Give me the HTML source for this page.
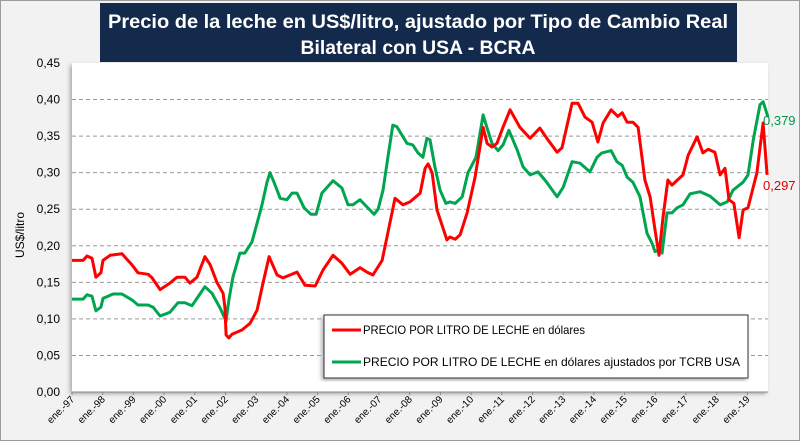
<!DOCTYPE html>
<html><head><meta charset="utf-8"><style>
html,body{margin:0;padding:0;background:#fff}
svg{display:block;font-family:"Liberation Sans",sans-serif}
</style></head><body>
<svg id="chart" width="800" height="441" viewBox="0 0 800 441">
<defs><filter id="sh" x="-5%" y="-5%" width="110%" height="110%"><feDropShadow dx="-2" dy="2" stdDeviation="2" flood-color="#777" flood-opacity="0.6"/></filter></defs>
<rect x="0.5" y="0.5" width="799" height="440" fill="#f2f2f2" stroke="#9a9a9a"/>
<rect x="72" y="63" width="696" height="329" fill="#fff" filter="url(#sh)"/>
<g id="grid"></g>
<g id="axes"></g>
<g id="series"></g>
<rect x="100" y="3" width="637" height="59" fill="#142a4c"/>
<text x="418" y="28" fill="#fff" font-weight="bold" font-size="19" text-anchor="middle" textLength="620" lengthAdjust="spacingAndGlyphs">Precio de la leche en US$/litro, ajustado por Tipo de Cambio Real</text>
<text x="418" y="54" fill="#fff" font-weight="bold" font-size="19" text-anchor="middle" textLength="235" lengthAdjust="spacingAndGlyphs">Bilateral con USA - BCRA</text>
<text transform="translate(24,235) rotate(-90)" font-size="12" text-anchor="middle" fill="#000">US$/litro</text>
<g>
<rect x="324" y="315" width="424" height="63" fill="#fff" stroke="#333" filter="url(#sh)"/>
<line x1="332" y1="330" x2="361" y2="330" stroke="#ff0000" stroke-width="3"/>
<text x="363" y="334" font-size="12" fill="#000" textLength="222" lengthAdjust="spacingAndGlyphs">PRECIO POR LITRO DE LECHE en dólares</text>
<line x1="332" y1="362" x2="361" y2="362" stroke="#00a550" stroke-width="3"/>
<text x="363" y="366" font-size="12" fill="#000" textLength="377" lengthAdjust="spacingAndGlyphs">PRECIO POR LITRO DE LECHE en dólares ajustados por TCRB USA</text>
</g>
<text x="763" y="125" font-size="13" fill="#00964a">0,379</text>
<text x="763" y="190" font-size="13" fill="#e00000">0,297</text>
</svg>
<script>
const yTicks=[0,0.05,0.10,0.15,0.20,0.25,0.30,0.35,0.40,0.45];
const yearLabels=["ene.-97","ene.-98","ene.-99","ene.-00","ene.-01","ene.-02","ene.-03","ene.-04","ene.-05","ene.-06","ene.-07","ene.-08","ene.-09","ene.-10","ene.-11","ene.-12","ene.-13","ene.-14","ene.-15","ene.-16","ene.-17","ene.-18","ene.-19"];
const redT=[0,.36,.49,.65,.78,.94,1.01,1.24,1.63,1.95,2.15,2.48,2.61,2.87,3.19,3.42,3.68,3.84,4.07,4.33,4.50,4.72,4.92,4.98,5.02,5.11,5.21,5.54,5.80,6.03,6.22,6.42,6.68,6.87,7.33,7.59,7.92,8.18,8.50,8.79,9.06,9.38,9.61,9.80,10.10,10.26,10.52,10.78,11.01,11.34,11.50,11.60,11.73,11.89,12.21,12.31,12.48,12.64,12.87,13.13,13.39,13.52,13.68,13.84,14.04,14.27,14.59,14.92,15.24,15.50,15.80,15.96,16.29,16.48,16.71,16.94,17.13,17.30,17.56,17.78,17.92,18.08,18.27,18.44,18.66,18.83,18.99,19.12,19.25,19.41,19.54,19.90,20.07,20.36,20.55,20.72,20.94,21.11,21.27,21.40,21.56,21.73,21.86,22.02,22.31,22.51,22.64];
const redV=[.180,.180,.186,.183,.157,.163,.180,.187,.189,.174,.163,.161,.156,.140,.149,.157,.157,.149,.157,.185,.174,.150,.135,.116,.078,.074,.079,.085,.094,.112,.149,.185,.160,.156,.164,.146,.145,.167,.187,.176,.161,.170,.164,.160,.180,.212,.265,.256,.260,.272,.306,.312,.300,.249,.208,.212,.209,.215,.245,.294,.362,.340,.335,.340,.362,.386,.362,.347,.361,.345,.328,.334,.395,.395,.376,.369,.342,.368,.386,.377,.382,.369,.369,.362,.290,.267,.222,.187,.239,.290,.283,.297,.324,.349,.327,.332,.328,.297,.306,.263,.258,.211,.249,.252,.300,.368,.297];
const greenT=[0,.36,.49,.65,.78,.94,1.01,1.34,1.63,1.95,2.15,2.48,2.64,2.87,3.19,3.45,3.68,3.91,4.10,4.33,4.56,4.82,5.02,5.11,5.24,5.47,5.63,5.86,6.03,6.19,6.35,6.45,6.58,6.78,7.00,7.17,7.33,7.56,7.78,7.95,8.14,8.50,8.79,8.99,9.15,9.38,9.61,9.84,9.97,10.13,10.29,10.45,10.58,10.91,11.10,11.27,11.43,11.56,11.66,11.82,11.99,12.18,12.31,12.48,12.71,12.90,13.16,13.39,13.52,13.68,13.88,14.04,14.23,14.50,14.69,14.92,15.18,15.44,15.80,16.00,16.29,16.55,16.87,17.10,17.26,17.56,17.75,17.92,18.08,18.27,18.50,18.73,18.89,18.99,19.09,19.22,19.38,19.54,19.71,19.90,20.13,20.46,20.78,21.11,21.34,21.53,21.86,22.02,22.19,22.41,22.51,22.67];
const greenV=[.127,.127,.133,.131,.111,.116,.128,.134,.134,.126,.119,.119,.116,.104,.109,.122,.122,.118,.130,.144,.135,.115,.097,.126,.157,.190,.190,.205,.231,.256,.287,.300,.287,.265,.263,.272,.272,.252,.243,.243,.272,.289,.279,.256,.256,.263,.253,.243,.250,.276,.321,.365,.363,.340,.338,.327,.321,.347,.345,.308,.276,.258,.260,.258,.267,.300,.321,.379,.361,.340,.330,.338,.358,.331,.308,.297,.301,.288,.267,.280,.315,.313,.301,.321,.327,.330,.315,.310,.294,.287,.267,.217,.204,.192,.194,.190,.245,.245,.252,.256,.271,.274,.268,.256,.260,.276,.287,.297,.345,.393,.397,.376];
const NS="http://www.w3.org/2000/svg";
const X0=72,X1=768,Y0=392,Y1=63,YEARS=22.67,YMAX=0.45;
function xs(t){return X0+t/YEARS*(X1-X0);}
function ys(v){return Y0-v/YMAX*(Y0-Y1);}
function mk(tag,attrs,parent){const e=document.createElementNS(NS,tag);for(const k in attrs)e.setAttribute(k,attrs[k]);parent.appendChild(e);return e;}
const grid=document.getElementById('grid'),axes=document.getElementById('axes'),ser=document.getElementById('series');
yTicks.forEach((v,i)=>{
  if(i>0&&i<yTicks.length-1){const l=mk('line',{x1:X0,x2:X1,y1:ys(v),y2:ys(v),stroke:'#999','stroke-dasharray':'4,3','stroke-width':1},grid);
  
  }
  const t=mk('text',{x:60,y:ys(v)+4,'text-anchor':'end','font-size':12,fill:'#000'},axes);
  t.textContent=v.toFixed(2).replace('.',',');
  
  
});
const ax=mk('line',{x1:X0,x2:X1,y1:Y0,y2:Y0,stroke:'#888','stroke-width':1},axes);


yearLabels.forEach((lab,i)=>{
  const x=xs(i);
  const tk=mk('line',{x1:x,x2:x,y1:Y0,y2:Y0+3,stroke:'#888'},axes);
  
  
  const h=mk('line',{x1:xs(i+0.5),x2:xs(i+0.5),y1:Y0,y2:Y0+2,stroke:'#aaa'},axes);
  
  
  const t=mk('text',{transform:`translate(${x+3},${Y0+8}) rotate(-45)`,'text-anchor':'end','font-size':10,fill:'#000'},axes);
  t.textContent=lab;
  
  
});
function line(T,V,color,name){
  const d=T.map((t,i)=>(i?'L':'M')+xs(t).toFixed(1)+','+ys(V[i]).toFixed(1)).join('');
  const p=mk('path',{d:d,fill:'none',stroke:color,'stroke-width':3,'stroke-linejoin':'round'},ser);
  
  
}
line(greenT,greenV,'#00a550','series-adjusted-price-line');
line(redT,redV,'#ff0000','series-price-usd-line');
</script>
</body></html>
